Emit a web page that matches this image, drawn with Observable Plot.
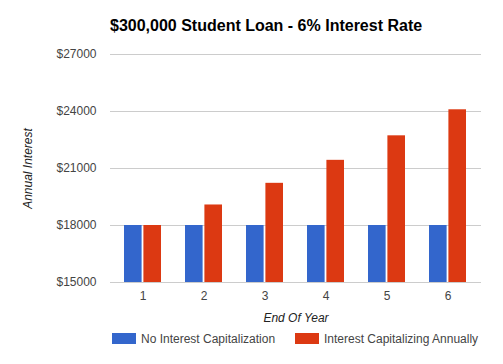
<!DOCTYPE html>
<html>
<head>
<meta charset="utf-8">
<script src="https://cdn.jsdelivr.net/npm/d3@7"></script>
<script src="https://cdn.jsdelivr.net/npm/@observablehq/plot@0.6"></script>
<style>
  body { margin: 0; background: #fff; font-family: "Liberation Sans", Arial, sans-serif; }
  #wrap { width: 503px; height: 364px; overflow: hidden; position: relative; }
  #title { padding: 18px 0 0 110px; font-size: 16px; font-weight: bold; line-height: 16px; color: #000; height: 22px; white-space: nowrap; }
  #legend { position: relative; height: 11px; margin-top: 8px; font-size: 12px; color: #444; }
  .item { display: flex; align-items: center; position: absolute; top: 0; height: 11px; white-space: nowrap; }
  .sw { width: 24px; height: 11px; margin-right: 5px; }
  g[aria-label="y-axis label"] text, g[aria-label="x-axis label"] text { font-style: italic; fill: #222; }
</style>
</head>
<body>
<div id="wrap">
  <div id="title">$300,000 Student Loan - 6% Interest Rate</div>
  <div id="chart"></div>
  <div id="legend"></div>
</div>
<script>
const years = [1, 2, 3, 4, 5, 6];
const seriesNames = ["No Interest Capitalization", "Interest Capitalizing Annually"];
const seriesColors = ["#3366cc", "#dc3912"];
const noCapitalization = [18000, 18000, 18000, 18000, 18000, 18000];
const capitalizingAnnually = [18000, 19080, 20220, 21430, 22720, 24090];
const yTicks = [15000, 18000, 21000, 24000, 27000];

const blueRows = years.map((yr, i) => ({year: yr, series: seriesNames[0], value: noCapitalization[i]}));
const redRows = years.map((yr, i) => ({year: yr, series: seriesNames[1], value: capitalizingAnnually[i]}));

const chart = Plot.plot({
  width: 503,
  height: 285,
  marginTop: 14,
  marginBottom: 43,
  marginLeft: 110,
  marginRight: 22,
  style: {fontFamily: "Liberation Sans, Arial, sans-serif", fontSize: "12px", color: "#444", background: "#fff"},
  x: {domain: years, paddingInner: 0.388, paddingOuter: 0.194, label: "End Of Year"},
  y: {domain: [15000, 27000], label: "Annual Interest"},
  color: {domain: seriesNames, range: seriesColors},
  marks: [
    Plot.ruleY(yTicks, {stroke: "#cccccc", strokeWidth: 1}),
    Plot.barY(blueRows, {x: "year", y1: 15000, y2: "value", fill: "series", insetRight: 19.4}),
    Plot.barY(redRows, {x: "year", y1: 15000, y2: "value", fill: "series", insetLeft: 19.4}),
    Plot.axisY({ticks: yTicks, tickFormat: d => "$" + d, tickSize: 0, tickPadding: 14, label: "Annual Interest", labelAnchor: "center", labelArrow: "none", labelOffset: 87, fill: "#444"}),
    Plot.axisX({tickSize: 0, tickPadding: 9, label: "End Of Year", labelAnchor: "center", labelArrow: "none", labelOffset: 39, fill: "#444"})
  ]
});
document.getElementById("chart").appendChild(chart);

const legend = document.getElementById("legend");
const starts = [112, 295];
seriesNames.forEach((name, i) => {
  const it = document.createElement("div");
  it.className = "item";
  it.style.left = starts[i] + "px";
  const sw = document.createElement("div");
  sw.className = "sw";
  sw.style.background = seriesColors[i];
  const tx = document.createElement("span");
  tx.textContent = name;
  it.appendChild(sw);
  it.appendChild(tx);
  legend.appendChild(it);
});
</script>
</body>
</html>
